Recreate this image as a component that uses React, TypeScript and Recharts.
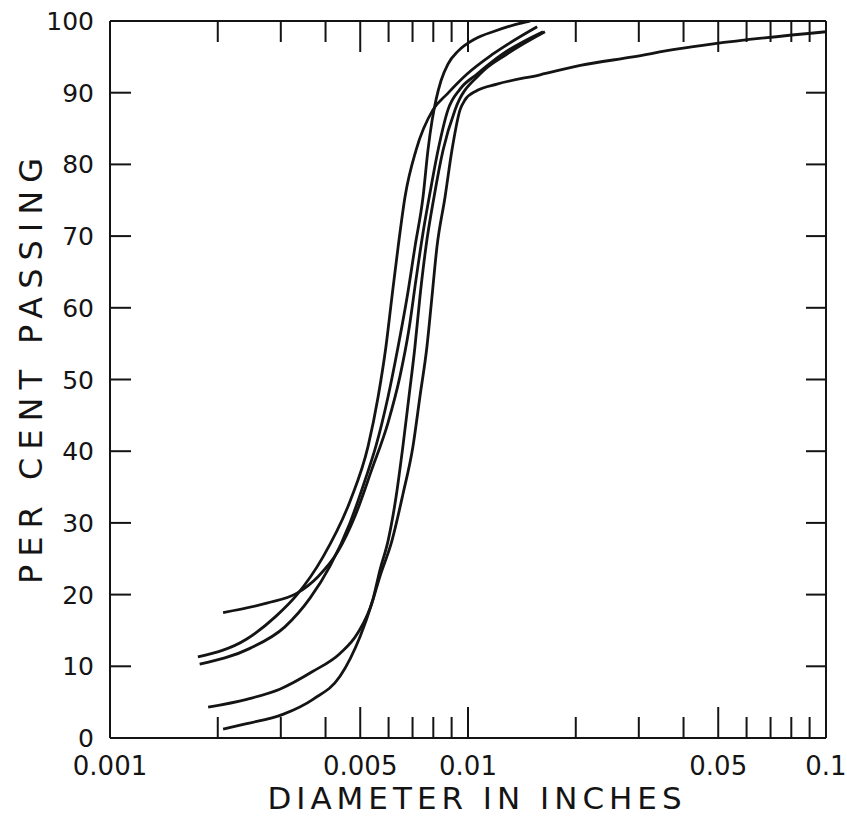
import React from "react";
import { LineChart, Line, XAxis, YAxis } from "recharts";

// grain size distribution curves, log diameter vs per cent passing
const xTicks = [0.001, 0.002, 0.003, 0.004, 0.005, 0.006, 0.007, 0.008, 0.009, 0.01, 0.02, 0.03, 0.04, 0.05, 0.06, 0.07, 0.08, 0.09, 0.1];
const xTickLabels = ["0.001", "", "", "", "0.005", "", "", "", "", "0.01", "", "", "", "0.05", "", "", "", "", "0.1"];
const yTicks = [0, 10, 20, 30, 40, 50, 60, 70, 80, 90, 100];

const curve1Dia = [0.00176, 0.00241, 0.00291, 0.00333, 0.00394, 0.00468, 0.00526, 0.00561, 0.0059, 0.00613, 0.00638, 0.00667, 0.00716, 0.00798, 0.00874, 0.00994, 0.01175, 0.0156];
const curve1Pct = [11.3, 13.8, 17, 20, 25.3, 33, 40.7, 47.6, 54.6, 61.5, 68.5, 75.5, 82, 87.6, 89.8, 92.6, 95.4, 99.2];

const curve2Dia = [0.00178, 0.00246, 0.00308, 0.00362, 0.00412, 0.00468, 0.00516, 0.00553, 0.00598, 0.00638, 0.00676, 0.00711, 0.00749, 0.00773, 0.00793, 0.00814, 0.00841, 0.00879, 0.00938, 0.01046, 0.0119, 0.01353, 0.0149];
const curve2Pct = [10.3, 12.5, 15.5, 19.5, 24, 30, 36, 40.7, 47.6, 54.6, 61.5, 68.5, 75.5, 82, 86, 89, 91.7, 94, 95.8, 97.5, 98.6, 99.5, 100];

const curve3Dia = [0.00207, 0.00274, 0.00333, 0.00381, 0.00433, 0.00484, 0.00539, 0.00598, 0.00646, 0.00684, 0.00716, 0.00749, 0.00783, 0.00825, 0.00879, 0.0095, 0.0106, 0.0125, 0.0162];
const curve3Pct = [17.5, 18.8, 20.2, 22.5, 26, 31, 37.5, 44, 50.5, 57, 64, 70.5, 76, 82, 87.6, 90.5, 92.6, 95.4, 98.5];

const curve4Dia = [0.00188, 0.00241, 0.00298, 0.00369, 0.00439, 0.0049, 0.00543, 0.00568, 0.00598, 0.00629, 0.00658, 0.00684, 0.00711, 0.00734, 0.00763, 0.00804, 0.00852, 0.0092, 0.0108, 0.01285, 0.0164];
const curve4Pct = [4.3, 5.4, 6.8, 9.3, 11.8, 14.5, 19.4, 23.5, 27.5, 33.5, 40.7, 47.6, 54.6, 61.5, 68.5, 75.5, 82, 87.6, 92.6, 95.4, 98.5];

const curve5Dia = [0.00207, 0.00241, 0.00304, 0.00369, 0.00439, 0.005, 0.00539, 0.00568, 0.00613, 0.00658, 0.00702, 0.00734, 0.00768, 0.00793, 0.00819, 0.00863, 0.00902, 0.0095, 0.00981, 0.0106, 0.01205, 0.0159, 0.0206, 0.0289, 0.0386, 0.0484, 0.1];
const curve5Pct = [1.25, 2, 3.3, 5.4, 8.6, 14.2, 18.8, 22.6, 27.5, 34, 40.7, 47.6, 54.6, 61.5, 68.5, 75.5, 82, 87.6, 89, 90.3, 91.2, 92.5, 93.8, 95, 96.1, 96.8, 98.5];

const curves = [
  [curve1Dia, curve1Pct],
  [curve2Dia, curve2Pct],
  [curve3Dia, curve3Pct],
  [curve4Dia, curve4Pct],
  [curve5Dia, curve5Pct],
].map(([dia, pct]) => dia.map((d, i) => ({ d, p: pct[i] })));

const INK = "#141414";
const FONT = "'DejaVu Sans', sans-serif";

const xIndex = (v: number) => xTicks.findIndex((t) => Math.abs(t - v) < 1e-9);
const xTickLen = (i: number) =>
  i <= 0 || i === xTicks.length - 1 ? 0 : xTickLabels[i] ? 31 : 21;

const BottomTick = (props: any) => {
  const { x, y, payload } = props;
  const i = xIndex(payload.value);
  const len = xTickLen(i);
  const lab = xTickLabels[i];
  return (
    <g>
      {len > 0 && <line x1={x} x2={x} y1={y} y2={y - len} stroke={INK} strokeWidth={2} />}
      {lab && (
        <text x={x} y={y + 37} textAnchor="middle" fontSize={26} fill={INK} fontFamily={FONT}>
          {lab}
        </text>
      )}
    </g>
  );
};

const TopTick = (props: any) => {
  const { x, y, payload } = props;
  const len = xTickLen(xIndex(payload.value));
  if (!len) return <g />;
  return <line x1={x} x2={x} y1={y} y2={y + len} stroke={INK} strokeWidth={2} />;
};

const LeftTick = (props: any) => {
  const { x, y, payload } = props;
  return (
    <g>
      <line x1={x} x2={x + 21} y1={y} y2={y} stroke={INK} strokeWidth={2} />
      <text x={x - 16} y={y + 9} textAnchor="end" fontSize={25} fill={INK} fontFamily={FONT}>
        {payload.value}
      </text>
    </g>
  );
};

const RightTick = (props: any) => {
  const { x, y } = props;
  return <line x1={x} x2={x - 20} y1={y} y2={y} stroke={INK} strokeWidth={2} />;
};

const XTitle = (props: any) => {
  const vb = props.viewBox;
  return (
    <text
      x={vb.x + vb.width / 2 + 9}
      y={809}
      textAnchor="middle"
      fontSize={31}
      letterSpacing={5}
      fill={INK}
      fontFamily={FONT}
    >
      DIAMETER IN INCHES
    </text>
  );
};

const YTitle = () => (
  <text
    x={42}
    y={367}
    transform="rotate(-90 42 367)"
    textAnchor="middle"
    fontSize={32}
    letterSpacing={8}
    fill={INK}
    fontFamily={FONT}
  >
    PER CENT PASSING
  </text>
);

const axisLine = { stroke: INK, strokeWidth: 2 };

export default function App() {
  return (
    <div style={{ position: "absolute", left: 0, top: 0, width: 847, height: 817, background: "#fff" }}>
      <LineChart width={847} height={817} margin={{ top: 20, right: 20, bottom: 29, left: 40 }}>
        <XAxis
          dataKey="d"
          type="number"
          scale="log"
          domain={[0.001, 0.1]}
          allowDataOverflow
          ticks={xTicks}
          interval={0}
          tick={BottomTick}
          tickLine={false}
          tickSize={0}
          tickMargin={0}
          axisLine={axisLine}
          height={50}
          label={XTitle}
        />
        <XAxis
          xAxisId="top"
          orientation="top"
          dataKey="d"
          type="number"
          scale="log"
          domain={[0.001, 0.1]}
          allowDataOverflow
          ticks={xTicks}
          interval={0}
          tick={TopTick}
          tickLine={false}
          tickSize={0}
          tickMargin={0}
          axisLine={axisLine}
          height={1}
        />
        <YAxis
          type="number"
          domain={[0, 100]}
          allowDataOverflow
          ticks={yTicks}
          interval={0}
          tick={LeftTick}
          tickLine={false}
          tickSize={0}
          tickMargin={0}
          axisLine={axisLine}
          width={70}
          label={YTitle}
        />
        <YAxis
          yAxisId="right"
          orientation="right"
          type="number"
          domain={[0, 100]}
          allowDataOverflow
          ticks={yTicks}
          interval={0}
          tick={RightTick}
          tickLine={false}
          tickSize={0}
          tickMargin={0}
          axisLine={axisLine}
          width={1}
        />
        {curves.map((data, k) => (
          <Line
            key={k}
            data={data}
            dataKey="p"
            type="monotone"
            stroke={INK}
            strokeWidth={2.8}
            dot={false}
            activeDot={false}
            isAnimationActive={false}
          />
        ))}
      </LineChart>
    </div>
  );
}
